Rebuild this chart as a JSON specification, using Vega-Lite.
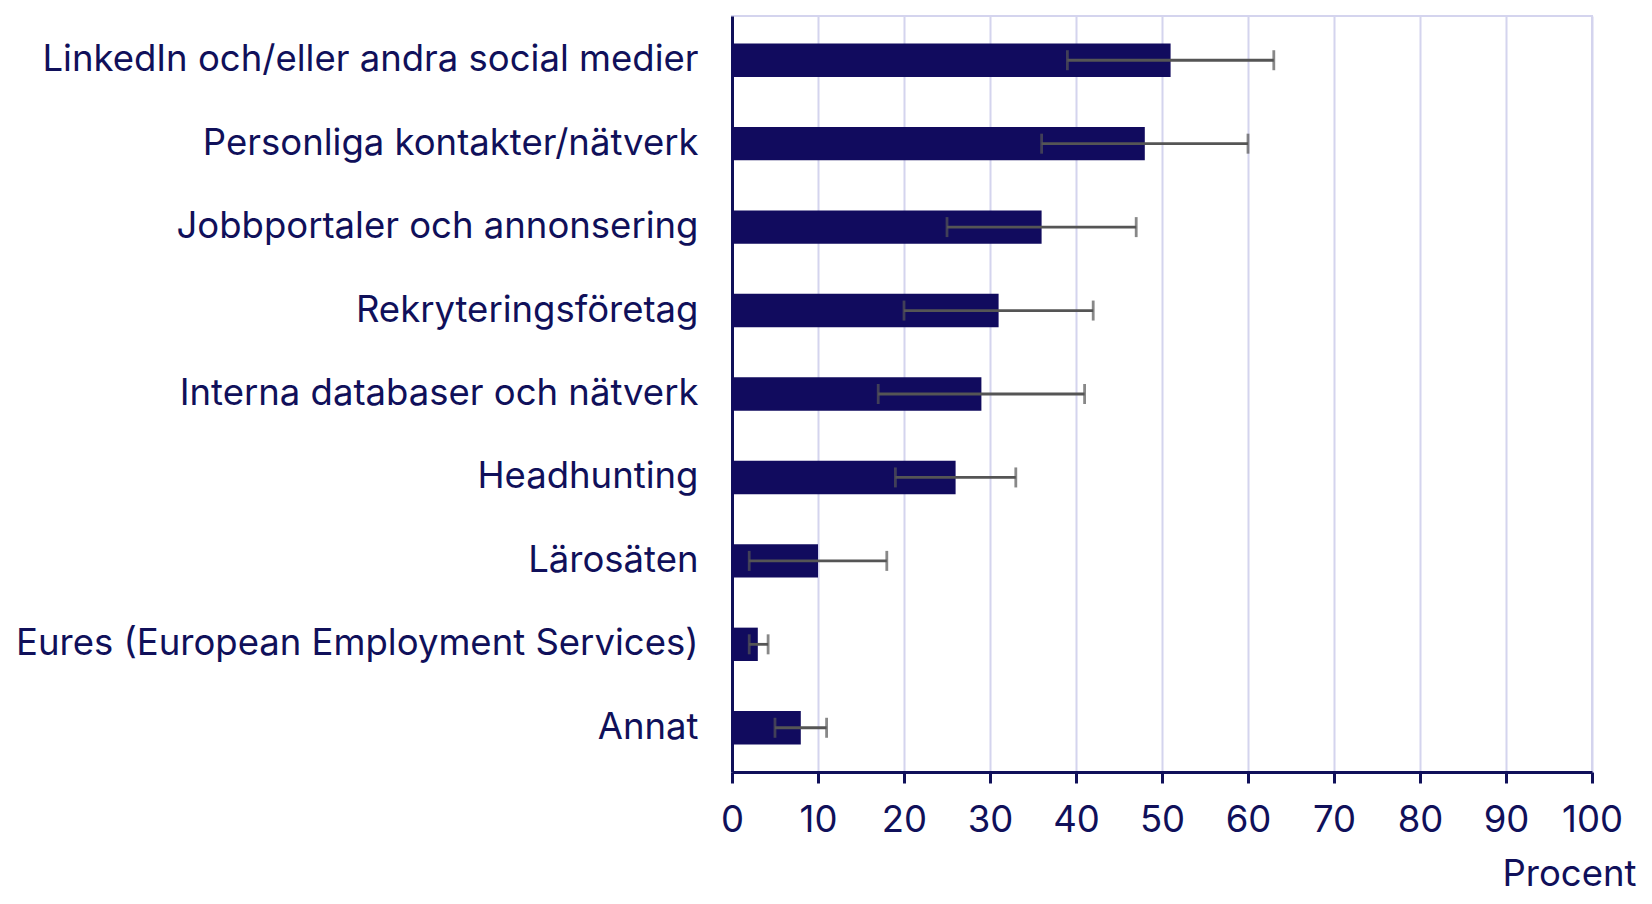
{
  "$schema": "https://vega.github.io/schema/vega-lite/v6.json",
  "autosize": "none",
  "width": 860,
  "height": 756,
  "padding": {"left": 732, "top": 16, "right": 60, "bottom": 132},
  "background": "white",
  "config": {
    "font": "Inter",
    "view": {"stroke": "#d4d4ee", "strokeWidth": 2},
    "axis": {"labelFont": "Inter", "titleFont": "Inter", "labelColor": "#10105a", "titleColor": "#10105a"}
  },
  "data": {
    "values": [
      {"kategori": "LinkedIn och/eller andra social medier", "procent": 51, "lo": 39, "hi": 63},
      {"kategori": "Personliga kontakter/nätverk", "procent": 48, "lo": 36, "hi": 60},
      {"kategori": "Jobbportaler och annonsering", "procent": 36, "lo": 25, "hi": 47},
      {"kategori": "Rekryteringsföretag", "procent": 31, "lo": 20, "hi": 42},
      {"kategori": "Interna databaser och nätverk", "procent": 29, "lo": 17, "hi": 41},
      {"kategori": "Headhunting", "procent": 26, "lo": 19, "hi": 33},
      {"kategori": "Lärosäten", "procent": 10, "lo": 2, "hi": 18},
      {"kategori": "Eures (European Employment Services)", "procent": 3, "lo": 2, "hi": 4.2},
      {"kategori": "Annat", "procent": 8, "lo": 5, "hi": 11}
    ]
  },
  "encoding": {
    "y": {
      "field": "kategori",
      "type": "nominal",
      "sort": null,
      "scale": {"paddingInner": 0.6, "paddingOuter": 0.33},
      "axis": {
        "title": null,
        "ticks": false,
        "labelFontSize": 36.5,
        "labelPadding": 34,
        "labelLimit": 800,
        "domainColor": "#10105a",
        "domainWidth": 3,
        "grid": false
      }
    }
  },
  "layer": [
    {
      "mark": {"type": "bar", "color": "#110b5e"},
      "encoding": {
        "x": {
          "field": "procent",
          "type": "quantitative",
          "scale": {"domain": [0, 100], "nice": false},
          "axis": {
            "title": "Procent",
            "values": [0, 10, 20, 30, 40, 50, 60, 70, 80, 90, 100],
            "labelFontSize": 36.5,
            "labelPadding": 19,
            "labelFlush": false,
            "tickSize": 11,
            "tickWidth": 3,
            "tickColor": "#10105a",
            "domainColor": "#10105a",
            "domainWidth": 3,
            "gridColor": "#d4d4ee",
            "gridWidth": 2,
            "titleFontSize": 36.5,
            "titleFontWeight": "normal",
            "titleAlign": "right",
            "titleAnchor": "end",
            "titleBaseline": "alphabetic",
            "titleX": 904,
            "titleY": 113
          }
        }
      }
    },
    {
      "mark": {"type": "rule", "color": "#555555", "strokeWidth": 2.8},
      "encoding": {
        "x": {"field": "lo", "type": "quantitative"},
        "x2": {"field": "hi"}
      }
    },
    {
      "mark": {"type": "tick", "color": "#555555", "thickness": 2.8, "size": 20},
      "encoding": {"x": {"field": "lo", "type": "quantitative"}}
    },
    {
      "mark": {"type": "tick", "color": "#555555", "thickness": 2.8, "size": 20},
      "encoding": {"x": {"field": "hi", "type": "quantitative"}}
    }
  ]
}
